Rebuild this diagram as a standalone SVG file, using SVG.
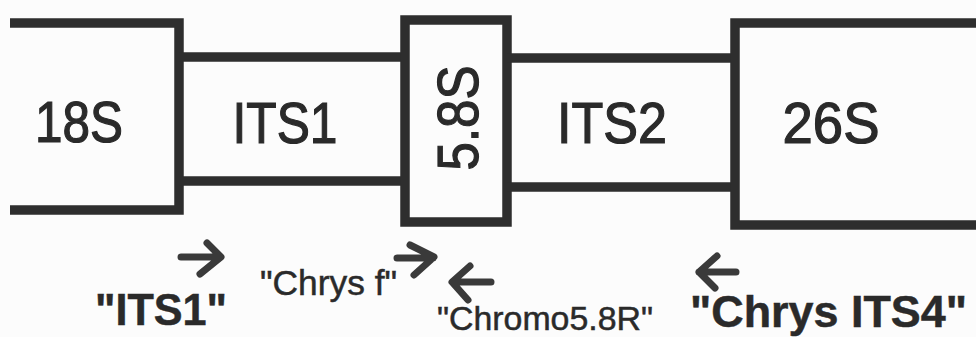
<svg xmlns="http://www.w3.org/2000/svg" width="976" height="337" viewBox="0 0 976 337">
<style>
.box{fill:none;stroke:#2e2e2e;stroke-width:9.5;stroke-linejoin:miter}
.big{font-family:"Liberation Sans",Arial,sans-serif;font-size:57px;fill:#2a2a2a;stroke:#2a2a2a;stroke-width:1.2;text-anchor:middle}
.lbl{font-family:"Liberation Sans",Arial,sans-serif;fill:#2a2a2a;stroke:#2a2a2a;stroke-width:0.5}
.b{font-weight:bold}
.arr{fill:none;stroke:#3a3a3a;stroke-width:7;stroke-linecap:round;stroke-linejoin:round}
</style>
<rect width="976" height="337" fill="#fcfcfc"/>
<g id="n18S">
<path class="box" d="M10,23 H179 V210 H10"/>
<text class="big" x="79" y="142" textLength="88" lengthAdjust="spacingAndGlyphs">18S</text>
</g>
<g id="nITS1">
<path class="box" d="M179,57 H405 M179,181 H405"/>
<text class="big" x="285" y="143" textLength="105" lengthAdjust="spacingAndGlyphs">ITS1</text>
</g>
<g id="n58S">
<rect class="box" x="405" y="20" width="102" height="202"/>
<text class="big" transform="translate(478,118) rotate(-90)" textLength="105" lengthAdjust="spacingAndGlyphs">5.8S</text>
</g>
<g id="nITS2">
<path class="box" d="M507,58 H735 M507,187 H735"/>
<text class="big" x="612" y="143" textLength="110" lengthAdjust="spacingAndGlyphs">ITS2</text>
</g>
<g id="n26S">
<path class="box" d="M976,23 H735 V225 H976"/>
<text class="big" x="831" y="143" textLength="97" lengthAdjust="spacingAndGlyphs">26S</text>
</g>
<g id="connectors">
<path class="arr" d="M181,257 H220 M207,243 L221,257 L200,274"/>
<path class="arr" d="M397,258 H433 M410,245 L434,257 L414,275"/>
<path class="arr" d="M491,282 H453 M470,266 L452,282 L468,300"/>
<path class="arr" d="M736,272 H699 M717,256 L699,272 L715,288"/>
</g>
<g id="labels">
<text class="lbl b" x="95" y="325" font-size="45" textLength="132" lengthAdjust="spacingAndGlyphs">"ITS1"</text>
<text class="lbl" x="260" y="295" font-size="35.5" textLength="137" lengthAdjust="spacingAndGlyphs">"Chrys f"</text>
<text class="lbl" x="437" y="330" font-size="33.5" textLength="216" lengthAdjust="spacingAndGlyphs">"Chromo5.8R"</text>
<text class="lbl b" x="690" y="327" font-size="45" textLength="277" lengthAdjust="spacingAndGlyphs">"Chrys ITS4"</text>
</g>
</svg>
